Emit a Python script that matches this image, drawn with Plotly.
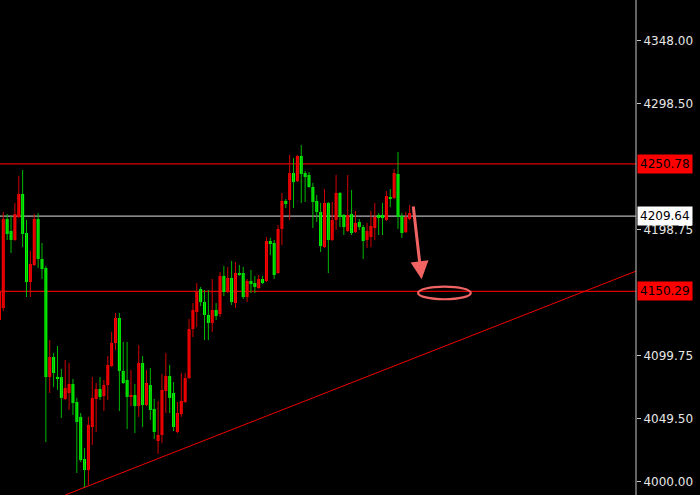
import plotly.graph_objects as go

open_ = [4127.6, 4137.1, 4207.3, 4197.9, 4190.8, 4208.9, 4227.1, 4196.3, 4157.6, 4171.0,
         4207.3, 4175.8, 4168.7, 4082.6, 4098.4, 4082.6, 4082.6, 4065.3, 4070.0, 4077.1,
         4062.9, 4051.1, 4017.9, 4009.2, 4043.2, 4065.3, 4073.2, 4067.6, 4076.3, 4091.3,
         4109.5, 4129.2, 4087.4, 4080.3, 4066.9, 4068.4, 4059.7, 4093.7, 4060.5, 4076.3,
         4057.4, 4032.1, 4036.9, 4071.6, 4083.4, 4070.0, 4039.2, 4053.4, 4062.9, 4081.8,
         4120.5, 4133.9, 4152.1, 4141.8, 4131.6, 4125.3, 4135.5, 4132.4, 4162.4, 4149.7,
         4160.8, 4141.0, 4164.7, 4164.7, 4145.8, 4158.4, 4156.8, 4152.9, 4160.0, 4158.4,
         4190.0, 4188.4, 4164.7, 4199.5, 4221.6, 4222.3, 4243.6, 4237.3, 4257.1, 4243.6,
         4242.1, 4232.6, 4221.6, 4212.9, 4185.2, 4220.0, 4190.8, 4206.6, 4227.9, 4210.5,
         4197.9, 4211.3, 4197.1, 4205.0, 4201.0, 4190.8, 4193.1, 4200.2, 4210.5, 4210.5,
         4206.6, 4224.7, 4223.9, 4242.9, 4209.7, 4197.1, 4207.3]

high_ = [4152.9, 4212.9, 4211.3, 4209.7, 4220.0, 4241.3, 4246.0, 4206.6, 4182.1, 4211.3,
         4212.1, 4188.4, 4170.3, 4111.8, 4101.6, 4107.1, 4089.0, 4096.1, 4093.7, 4081.1,
         4066.1, 4054.2, 4026.6, 4051.1, 4082.6, 4077.9, 4082.6, 4080.3, 4099.2, 4118.2,
         4133.2, 4133.2, 4110.3, 4110.3, 4088.2, 4077.1, 4107.9, 4099.2, 4088.2, 4089.7,
         4065.3, 4063.7, 4085.0, 4101.6, 4092.1, 4078.7, 4062.9, 4085.8, 4085.8, 4128.4,
         4141.0, 4156.8, 4153.7, 4151.3, 4151.3, 4160.0, 4141.0, 4165.5, 4170.3, 4169.5,
         4174.2, 4173.4, 4171.0, 4169.5, 4160.0, 4167.1, 4162.4, 4163.1, 4162.4, 4193.1,
         4192.4, 4190.8, 4202.6, 4227.9, 4223.1, 4257.9, 4255.5, 4257.9, 4265.7, 4245.2,
         4244.4, 4235.8, 4226.3, 4220.0, 4231.0, 4220.8, 4220.8, 4242.1, 4228.7, 4211.3,
         4242.1, 4230.2, 4213.7, 4207.3, 4202.6, 4204.2, 4213.7, 4220.0, 4212.1, 4220.0,
         4229.4, 4231.0, 4246.8, 4260.2, 4212.1, 4212.9, 4218.4]

low_ = [4126.1, 4134.7, 4190.8, 4180.5, 4190.0, 4208.1, 4185.2, 4145.8, 4145.8, 4170.3,
        4168.7, 4160.0, 4031.3, 4070.0, 4074.7, 4072.4, 4050.3, 4064.5, 4056.6, 4052.6,
        4006.9, 4015.5, 3995.0, 3997.4, 4029.0, 4039.2, 4064.5, 4055.8, 4064.5, 4090.5,
        4104.0, 4055.8, 4077.1, 4041.6, 4059.7, 4038.4, 4051.1, 4043.2, 4059.7, 4048.7,
        4033.7, 4021.9, 4030.5, 4054.2, 4054.2, 4040.0, 4038.4, 4051.1, 4062.1, 4081.0,
        4114.2, 4122.1, 4138.7, 4111.8, 4111.8, 4118.2, 4127.6, 4130.0, 4146.6, 4148.9,
        4139.5, 4137.1, 4162.5, 4144.2, 4141.8, 4148.9, 4148.9, 4152.0, 4156.0, 4157.6,
        4178.9, 4160.0, 4164.0, 4186.8, 4216.0, 4206.6, 4216.0, 4236.6, 4220.0, 4220.8,
        4232.0, 4200.2, 4205.0, 4181.3, 4184.5, 4164.7, 4190.0, 4198.7, 4201.0, 4194.7,
        4197.1, 4194.7, 4196.3, 4198.7, 4175.8, 4184.5, 4185.2, 4190.8, 4194.7, 4194.7,
        4205.8, 4216.8, 4223.1, 4199.5, 4192.4, 4196.3, 4206.5]

close_ = [4149.7, 4207.3, 4195.5, 4190.8, 4211.3, 4227.1, 4195.5, 4157.6, 4171.8, 4207.3,
          4175.8, 4167.9, 4082.6, 4098.4, 4085.8, 4081.8, 4066.1, 4074.0, 4077.1, 4062.1,
          4047.1, 4017.1, 4009.2, 4044.8, 4066.1, 4073.2, 4066.9, 4076.3, 4092.1, 4109.5,
          4129.2, 4087.4, 4077.9, 4066.9, 4068.4, 4059.7, 4093.7, 4060.5, 4077.9, 4056.6,
          4039.2, 4036.9, 4072.4, 4083.4, 4066.1, 4043.2, 4054.2, 4063.7, 4081.8, 4120.5,
          4135.5, 4149.7, 4141.8, 4131.6, 4125.3, 4135.5, 4130.8, 4162.4, 4149.7, 4160.8,
          4141.8, 4164.7, 4163.1, 4145.8, 4158.4, 4156.0, 4153.7, 4160.0, 4156.8, 4190.0,
          4187.6, 4163.1, 4199.5, 4221.6, 4219.2, 4243.6, 4236.6, 4257.1, 4242.9, 4240.5,
          4232.6, 4220.8, 4212.9, 4186.0, 4220.0, 4190.8, 4206.6, 4227.9, 4208.9, 4201.0,
          4210.5, 4196.3, 4204.2, 4201.0, 4190.0, 4197.9, 4201.8, 4208.9, 4208.1, 4208.1,
          4225.5, 4223.1, 4243.6, 4208.9, 4196.3, 4208.9, 4212.1]

bar_index = list(range(len(open_)))

tick_values = [4000.00, 4049.50, 4099.75, 4198.75, 4298.50, 4348.00]
tick_labels = ["4000.00", "4049.50", "4099.75", "4198.75", "4298.50", "4348.00"]

resistance_level = 4250.78
current_price = 4209.64
support_level = 4150.29

trend_start = (17.0, 3989.5)
trend_end = (164.5, 4166.2)

arrow_from = (106.9, 4218.4)
arrow_to = (109.1, 4159.8)
target_ellipse = (108.2, 4144.0, 121.8, 4153.9)

UP_BODY, UP_WICK = "#ff0000", "#d00000"
DN_BODY, DN_WICK = "#00ff00", "#00b800"


def candle_parts(rising):
    xs, base, height, wx, wy = [], [], [], [], []
    for i, o, h, l, c in zip(bar_index, open_, high_, low_, close_):
        if (c >= o) != rising:
            continue
        lo, hi = min(o, c), max(o, c)
        xs.append(i)
        base.append(lo)
        height.append(max(hi - lo, 0.9))
        wx += [i, i, None]
        wy += [l, h, None]
    return xs, base, height, wx, wy


fig = go.Figure()
for rising, body_c, wick_c in [(True, UP_BODY, UP_WICK), (False, DN_BODY, DN_WICK)]:
    xs, base, height, wx, wy = candle_parts(rising)
    fig.add_trace(go.Scatter(x=wx, y=wy, mode="lines", line=dict(color=wick_c, width=1),
                             hoverinfo="skip", showlegend=False))
    fig.add_trace(go.Bar(x=xs, y=height, base=base, width=0.78, marker=dict(color=body_c, line=dict(width=0)),
                         hoverinfo="skip", showlegend=False))

red_line = "#d80000"
shapes = [
    dict(type="line", xref="paper", x0=0, x1=1, yref="y", y0=resistance_level, y1=resistance_level,
         line=dict(color=red_line, width=1.2), layer="below"),
    dict(type="line", xref="paper", x0=0, x1=1, yref="y", y0=current_price, y1=current_price,
         line=dict(color="#b4b4b4", width=1.2), layer="below"),
    dict(type="line", xref="paper", x0=0, x1=1, yref="y", y0=support_level, y1=support_level,
         line=dict(color=red_line, width=1.2), layer="below"),
    dict(type="line", xref="x", yref="y", x0=trend_start[0], y0=trend_start[1],
         x1=trend_end[0], y1=trend_end[1], line=dict(color="#f00000", width=1)),
    dict(type="circle", xref="x", yref="y", x0=target_ellipse[0], y0=target_ellipse[1],
         x1=target_ellipse[2], y1=target_ellipse[3], line=dict(color="#f26464", width=2.2)),
    dict(type="line", xref="paper", yref="paper", x0=1, x1=1, y0=0, y1=1,
         line=dict(color="#c8c8c8", width=1)),
]

annotations = [
    dict(x=arrow_to[0], y=arrow_to[1], ax=arrow_from[0], ay=arrow_from[1],
         xref="x", yref="y", axref="x", ayref="y", text="", showarrow=True,
         arrowhead=2, arrowsize=1.2, arrowwidth=3, arrowcolor="#f26464"),
]
for lvl, bg in [(resistance_level, "#ff0000"), (current_price, "#ffffff"), (support_level, "#ff0000")]:
    annotations.append(dict(
        xref="paper", x=1, xanchor="left", xshift=1, yref="y", y=lvl, yanchor="middle",
        text=f"{lvl:.2f}", showarrow=False, bgcolor=bg, borderpad=2,
        font=dict(family="DejaVu Sans", size=12, color="#000000"),
    ))

fig.update_layout(
    width=700, height=495,
    margin=dict(l=0, r=64, t=0, b=0, autoexpand=False),
    paper_bgcolor="#000000", plot_bgcolor="#000000",
    shapes=shapes, annotations=annotations,
    showlegend=False, barmode="overlay",
    xaxis=dict(range=[0.15, 164.5], visible=False, showgrid=False, zeroline=False),
    yaxis=dict(range=[3989.5, 4380.2], side="right", showgrid=False, zeroline=False,
               tickvals=tick_values, ticktext=tick_labels, ticks="outside", ticklen=4,
               tickcolor="#c8c8c8", showline=False, automargin=False,
               tickfont=dict(family="DejaVu Sans", size=12, color="#e6e6e6")),
)

fig.write_html("out.html", config={"displayModeBar": False},
               post_script="document.body.style.margin='0';document.body.style.background='#000';")
